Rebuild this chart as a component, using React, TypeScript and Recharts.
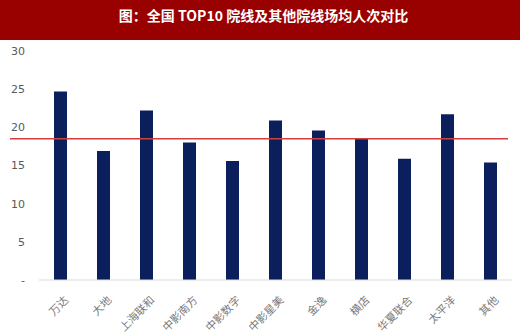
import React from "react";
import { BarChart, Bar, XAxis, YAxis, ReferenceLine } from "recharts";

const categories = ["万达", "大地", "上海联和", "中影南方", "中影数字", "中影星美", "金逸", "横店", "华夏联合", "太平洋", "其他"];
const values = [24.7, 16.9, 22.2, 18.0, 15.6, 20.9, 19.6, 18.6, 15.9, 21.7, 15.4];
const averageValue = 18.5;
const yTicks = [0, 5, 10, 15, 20, 25, 30];
const title = "图：全国 TOP10 院线及其他院线场均人次对比";

const data = categories.map((name, i) => ({ name, value: values[i] }));

const XTick = (props: any) => {
  const { x, y, payload } = props;
  return (
    <g transform={`translate(${x + 6},${y + 10})`}>
      <text
        x={0}
        y={0}
        dy={4}
        textAnchor="end"
        transform="rotate(-45)"
        fill="#7a7a7a"
        fontSize={11}
        fontFamily="'Noto Sans CJK SC', sans-serif"
      >
        {payload.value}
      </text>
    </g>
  );
};

const RedLine = (props: any) => {
  const { x1, y1, x2, y2 } = props;
  return <line x1={x1 - 29} y1={y1} x2={x2 - 4} y2={y2} stroke="#D23F3F" strokeWidth={1.5} />;
};

export default function App() {
  return (
    <div style={{ position: "absolute", left: 0, top: 0, width: 520, height: 336, background: "#fff" }}>
      <div
        style={{
          height: 40,
          background: "#990000",
          color: "#fff",
          fontFamily: "'Noto Sans CJK SC', sans-serif",
          fontWeight: "bold",
          fontSize: 14,
          lineHeight: "30px",
          textAlign: "center",
          paddingLeft: 7,
          boxSizing: "border-box",
        }}
      >
        {title}
      </div>
      <BarChart width={520} height={296} data={data} margin={{ top: 11, right: 8, left: 0, bottom: 0 }}>
        <XAxis
          dataKey="name"
          interval={0}
          height={56}
          tickLine={false}
          axisLine={{ stroke: "#d9d9d9" }}
          tick={<XTick />}
        />
        <YAxis
          domain={[0, 30]}
          ticks={yTicks}
          width={39}
          axisLine={false}
          tickLine={false}
          tickMargin={8}
          tickFormatter={(v: number) => (v === 0 ? "-" : String(v))}
          tick={{ fill: "#595959", fontSize: 11, fontFamily: "'DejaVu Sans', sans-serif" }}
        />
        <Bar dataKey="value" fill="#0B1F5C" barSize={13} isAnimationActive={false} />
        <ReferenceLine y={averageValue} shape={<RedLine />} />
      </BarChart>
    </div>
  );
}
